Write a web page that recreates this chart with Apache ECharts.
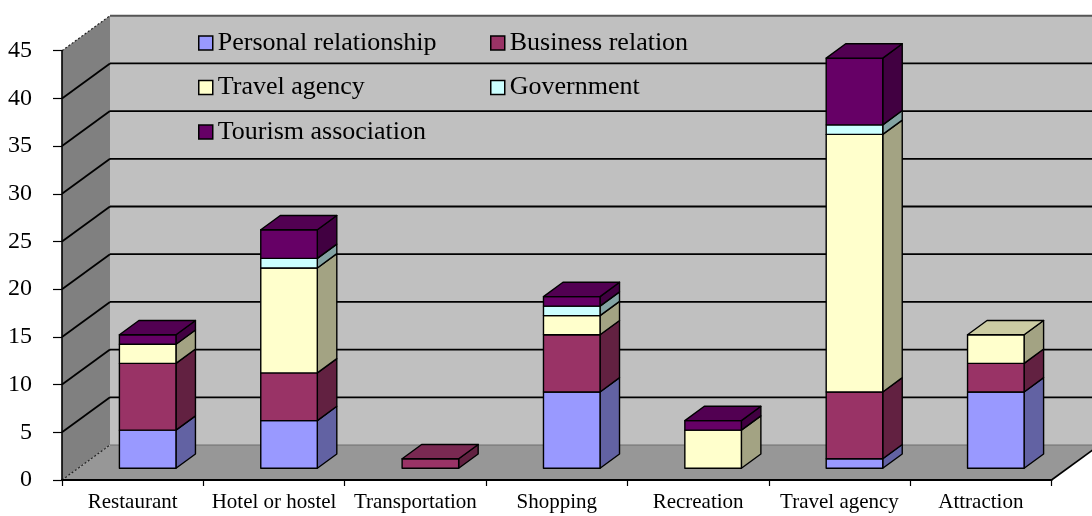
<!DOCTYPE html>
<html>
<head>
<meta charset="utf-8">
<style>
  html, body { margin: 0; padding: 0; background: #ffffff; }
  #chart { width: 1092px; height: 516px; }
</style>
<script src="https://cdn.jsdelivr.net/npm/echarts@6/dist/echarts.min.js"></script>
</head>
<body>
<div id="chart"></div>
<script>
// Categories along the floor of the chart
const categories = ['Restaurant', 'Hotel or hostel', 'Transportation', 'Shopping', 'Recreation', 'Travel agency', 'Attraction'];

// Stacked series values, bottom to top
const personalRelationship = [4, 5, 0, 8, 0, 1, 8];
const businessRelation     = [7, 5, 1, 6, 0, 7, 3];
const travelAgency         = [2, 11, 0, 2, 4, 27, 3];
const government           = [0, 1, 0, 1, 0, 1, 0];
const tourismAssociation   = [1, 3, 0, 1, 1, 7, 0];

const seriesNames = ['Personal relationship', 'Business relation', 'Travel agency', 'Government', 'Tourism association'];
const seriesValues = [personalRelationship, businessRelation, travelAgency, government, tourismAssociation];
const seriesColors = ['#9999FF', '#993366', '#FFFFCC', '#CCFFFF', '#660066'];

// Value axis ticks
const yMin = 0, yMax = 45, yStep = 5;

// Oblique projection: full depth of the box and placement of the columns inside it
const DEPTH_X = 48, DEPTH_Y = -35;
const BAR_OFF_X = 15, BAR_OFF_Y = -11.7;
const BAR_DEPTH_X = 19.5, BAR_DEPTH_Y = -14.3;
const BAR_WIDTH_RATIO = 0.4;

const FONT = "'Liberation Serif', 'Times New Roman', serif";

function shade(hex, k) {
  const n = parseInt(hex.slice(1), 16);
  const r = Math.round(((n >> 16) & 255) * k);
  const g = Math.round(((n >> 8) & 255) * k);
  const b = Math.round((n & 255) * k);
  return 'rgb(' + r + ',' + g + ',' + b + ')';
}

// Index of the highest non-empty segment in every column
const topIndex = categories.map((_, ci) => {
  let t = -1;
  seriesValues.forEach((vals, si) => { if (vals[ci] > 0) t = si; });
  return t;
});

// Cumulative start/end of each segment
const stacked = seriesValues.map(() => []);
categories.forEach((_, ci) => {
  let acc = 0;
  seriesValues.forEach((vals, si) => {
    const v = vals[ci];
    stacked[si].push([ci, acc, acc + v, topIndex[ci] === si ? 1 : 0]);
    acc += v;
  });
});

function renderBox(color) {
  return function (params, api) {
    const ci = api.value(0), y0 = api.value(1), y1 = api.value(2), isTop = api.value(3);
    if (!(y1 > y0)) return null;
    const pb = api.coord([ci, y0]);
    const pt = api.coord([ci, y1]);
    const bw = api.size([1, 0])[0] * BAR_WIDTH_RATIO;
    const x0 = pb[0] - bw / 2 + BAR_OFF_X;
    const x1 = x0 + bw;
    const yb = pb[1] + BAR_OFF_Y;
    const yt = pt[1] + BAR_OFF_Y;
    const stroke = { stroke: '#000', lineWidth: 1.4, lineJoin: 'round' };
    const children = [
      {
        type: 'polygon',
        shape: { points: [[x1, yb], [x1, yt], [x1 + BAR_DEPTH_X, yt + BAR_DEPTH_Y], [x1 + BAR_DEPTH_X, yb + BAR_DEPTH_Y]] },
        style: Object.assign({ fill: shade(color, 0.64) }, stroke)
      },
      {
        type: 'rect',
        shape: { x: x0, y: yt, width: bw, height: yb - yt },
        style: Object.assign({ fill: color }, stroke)
      }
    ];
    if (isTop) {
      children.push({
        type: 'polygon',
        shape: { points: [[x0, yt], [x1, yt], [x1 + BAR_DEPTH_X, yt + BAR_DEPTH_Y], [x0 + BAR_DEPTH_X, yt + BAR_DEPTH_Y]] },
        style: Object.assign({ fill: shade(color, 0.8) }, stroke)
      });
    }
    return { type: 'group', children: children };
  };
}

// Walls, floor and the receding grid lines of the box
function renderWalls(params, api) {
  const cs = params.coordSys;
  const left = cs.x, right = cs.x + cs.width;
  const yAt = v => api.coord([0, v])[1];
  const y0 = yAt(yMin), yTop = yAt(yMax);
  const bx = left + DEPTH_X;
  const backRight = right + DEPTH_X + 60;
  const children = [];
  // back wall
  children.push({
    type: 'rect',
    shape: { x: bx, y: yTop + DEPTH_Y, width: backRight - bx, height: y0 - yTop },
    style: { fill: '#C0C0C0' }
  });
  // left side wall
  children.push({
    type: 'polygon',
    shape: { points: [[left, y0], [left, yTop], [bx, yTop + DEPTH_Y], [bx, y0 + DEPTH_Y]] },
    style: { fill: '#808080' }
  });
  // floor
  children.push({
    type: 'polygon',
    shape: { points: [[left, y0], [right, y0], [right + DEPTH_X, y0 + DEPTH_Y], [bx, y0 + DEPTH_Y]] },
    style: { fill: '#979797' }
  });
  // floor / back wall seam
  children.push({
    type: 'line',
    shape: { x1: bx, y1: y0 + DEPTH_Y, x2: backRight, y2: y0 + DEPTH_Y },
    style: { stroke: '#6e6e6e', lineWidth: 1 }
  });
  // floor right edge
  children.push({
    type: 'line',
    shape: { x1: right, y1: y0, x2: right + DEPTH_X, y2: y0 + DEPTH_Y },
    style: { stroke: '#000', lineWidth: 1.6 }
  });
  // grid lines
  for (let v = yMin; v <= yMax; v += yStep) {
    const y = yAt(v);
    const edge = (v === yMin || v === yMax);
    children.push({
      type: 'line',
      shape: { x1: left, y1: y, x2: bx, y2: y + DEPTH_Y },
      style: edge ? { stroke: '#222', lineWidth: 1.2, lineDash: [2, 2] } : { stroke: '#000', lineWidth: 1.8 }
    });
    if (v === yMax) {
      children.push({
        type: 'line',
        shape: { x1: bx, y1: y + DEPTH_Y, x2: backRight, y2: y + DEPTH_Y },
        style: { stroke: '#555', lineWidth: 2 }
      });
    } else if (v !== yMin) {
      children.push({
        type: 'line',
        shape: { x1: bx, y1: y + DEPTH_Y, x2: backRight, y2: y + DEPTH_Y },
        style: { stroke: '#000', lineWidth: 1.8 }
      });
    }
  }
  return { type: 'group', children: children };
}

const chart = echarts.init(document.getElementById('chart'), null, { renderer: 'canvas' });

const series = [{
  type: 'custom',
  name: '__walls',
  coordinateSystem: 'cartesian2d',
  z: 1,
  silent: true,
  renderItem: renderWalls,
  data: [[0, 0]],
  encode: { x: 0, y: 1 }
}];

seriesNames.forEach((name, si) => {
  series.push({
    type: 'custom',
    name: name,
    coordinateSystem: 'cartesian2d',
    z: 2,
    itemStyle: { color: seriesColors[si] },
    renderItem: renderBox(seriesColors[si]),
    encode: { x: 0, y: [1, 2] },
    data: stacked[si]
  });
});

const legendCommon = {
  orient: 'vertical',
  icon: 'rect',
  padding: 0,
  itemWidth: 14,
  itemHeight: 14,
  itemGap: 18.5,
  itemStyle: { borderColor: '#000', borderWidth: 1.5 },
  textStyle: { fontFamily: FONT, fontSize: 26, color: '#000' },
  selectedMode: false
};

chart.setOption({
  animation: false,
  backgroundColor: '#ffffff',
  grid: { left: 62, right: 40.5, top: 50.7, bottom: 36, containLabel: false },
  legend: [
    Object.assign({}, legendCommon, { left: 198, top: 30, data: [seriesNames[0], seriesNames[2], seriesNames[4]] }),
    Object.assign({}, legendCommon, { left: 490, top: 30, data: [seriesNames[1], seriesNames[3]] })
  ],
  xAxis: {
    type: 'category',
    data: categories,
    z: 10,
    axisLine: { lineStyle: { color: '#000', width: 2 } },
    axisTick: { show: true, length: 6, lineStyle: { color: '#000', width: 1.2 } },
    axisLabel: { fontFamily: FONT, fontSize: 21, color: '#000', margin: 12, interval: 0 },
    splitLine: { show: false }
  },
  yAxis: {
    type: 'value',
    min: yMin,
    max: yMax,
    interval: yStep,
    z: 10,
    axisLine: { show: true, lineStyle: { color: '#000', width: 1.6 } },
    axisTick: { show: true, length: 9, lineStyle: { color: '#000', width: 1.2 } },
    axisLabel: { fontFamily: FONT, fontSize: 24, color: '#000', margin: 30 },
    splitLine: { show: false }
  },
  series: series
});
</script>
</body>
</html>
